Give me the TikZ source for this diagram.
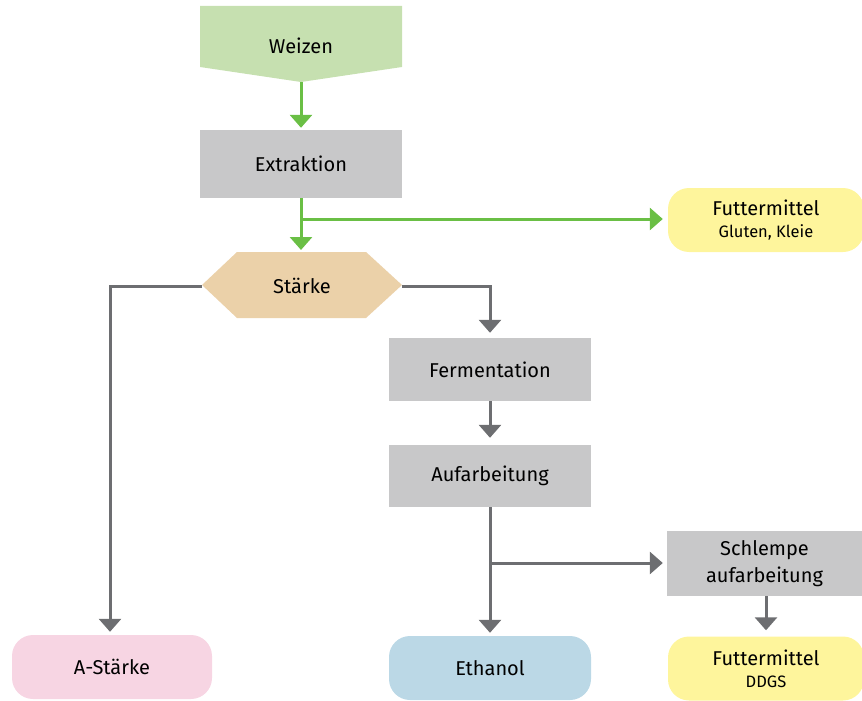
\documentclass[tikz,border=0pt]{standalone}
\usepackage{fontspec}
\setmainfont{Fira Sans}
\usetikzlibrary{arrows.meta}
\definecolor{grainfill}{HTML}{C6E0B0}
\definecolor{flowgreen}{HTML}{6ABF45}
\definecolor{stepgray}{HTML}{C8C8C9}
\definecolor{flowgray}{HTML}{6D6E71}
\definecolor{starchtan}{HTML}{EBD1A9}
\definecolor{feedyellow}{HTML}{FEF59C}
\definecolor{starchpink}{HTML}{F7D5E3}
\definecolor{fuelblue}{HTML}{BBD8E6}
\newcommand\subline[1]{{\fontsize{16.5}{18}\selectfont #1}}
\tikzset{
  x=1pt, y=-1pt,
  lbl/.style={font=\fontsize{20}{22}\selectfont, text=black, align=center},
  stepbox/.style={lbl, fill=stepgray, minimum width=202pt, minimum height=64pt, inner sep=0pt},
  endbox/.style={lbl, rounded corners=21pt, minimum width=200pt, minimum height=64pt, inner sep=0pt},
  greenflow/.style={draw=flowgreen, line width=3pt, -{Triangle[width=22pt,length=13pt]}, shorten >=2pt},
  grayflow/.style={draw=flowgray, line width=3pt, -{Triangle[width=22pt,length=13pt]}, shorten >=3pt},
}
\begin{document}
\begin{tikzpicture}
\useasboundingbox (0,0) rectangle (862,701);

% raw material: pentagon pointing downwards
\fill[grainfill] (200,6) -- (402,6) -- (402,67) -- (301,82) -- (200,67) -- cycle;
\node[lbl] (weizen) at (301,46) {Weizen};
\coordinate (weizentip) at (301,82);

% process steps
\node[stepbox, minimum height=68pt] (extraktion) at (301,164) {Extraktion};
\node[stepbox, minimum height=63pt] (fermentation) at (490,369.5) {Fermentation};
\node[stepbox, minimum height=62pt] (aufarbeitung) at (490,476) {Aufarbeitung};
\node[stepbox, minimum width=195pt, minimum height=65pt, font=\fontsize{20}{27}\selectfont] (schlempe) at (764.5,563.5) {Schlempe\\aufarbeitung};

% intermediate product: hexagon
\fill[starchtan] (202,285) -- (237,252) -- (366,252) -- (402,285) -- (366,318) -- (237,318) -- cycle;
\node[lbl] (staerke) at (302,286) {Stärke};
\coordinate (staerkeW) at (202,286);
\coordinate (staerkeE) at (402,286);
\coordinate (staerkeN) at (301,252);

% products
\node[endbox, fill=feedyellow, minimum width=196pt] (futter1) at (766,220) {Futtermittel\\[0pt]\subline{Gluten, Kleie}};
\node[endbox, fill=starchpink] (astaerke) at (112,667) {A-Stärke};
\node[endbox, fill=fuelblue, minimum width=202pt] (ethanol) at (490,668) {Ethanol};
\node[endbox, fill=feedyellow, minimum width=196pt] (futter2) at (766,668.5) {Futtermittel\\[0pt]\subline{DDGS}};

% connectors
\draw[greenflow] (weizentip) -- (extraktion.north);
\draw[greenflow] (extraktion.south) -- (staerkeN);
\coordinate (gsplit) at (301,219);
\draw[greenflow, shorten >=5pt] (gsplit) -- (gsplit -| futter1.west);

\coordinate (lcorner) at (110,286);
\coordinate (rcorner) at (490,286);
\draw[grayflow] (staerkeW) -- (lcorner) -- (lcorner |- astaerke.north);
\draw[grayflow, shorten >=5pt] (staerkeE) -- (rcorner) -- (fermentation.north);
\draw[grayflow, shorten >=7pt] (fermentation.south) -- (aufarbeitung.north);
\draw[grayflow] (aufarbeitung.south) -- (ethanol.north);
\coordinate (asplit) at (490,563);
\draw[grayflow, shorten >=4pt] (asplit) -- (asplit -| schlempe.west);
\coordinate (schlempefoot) at (766,596);
\draw[grayflow, shorten >=6pt] (schlempefoot) -- (schlempefoot |- futter2.north);
\end{tikzpicture}
\end{document}
